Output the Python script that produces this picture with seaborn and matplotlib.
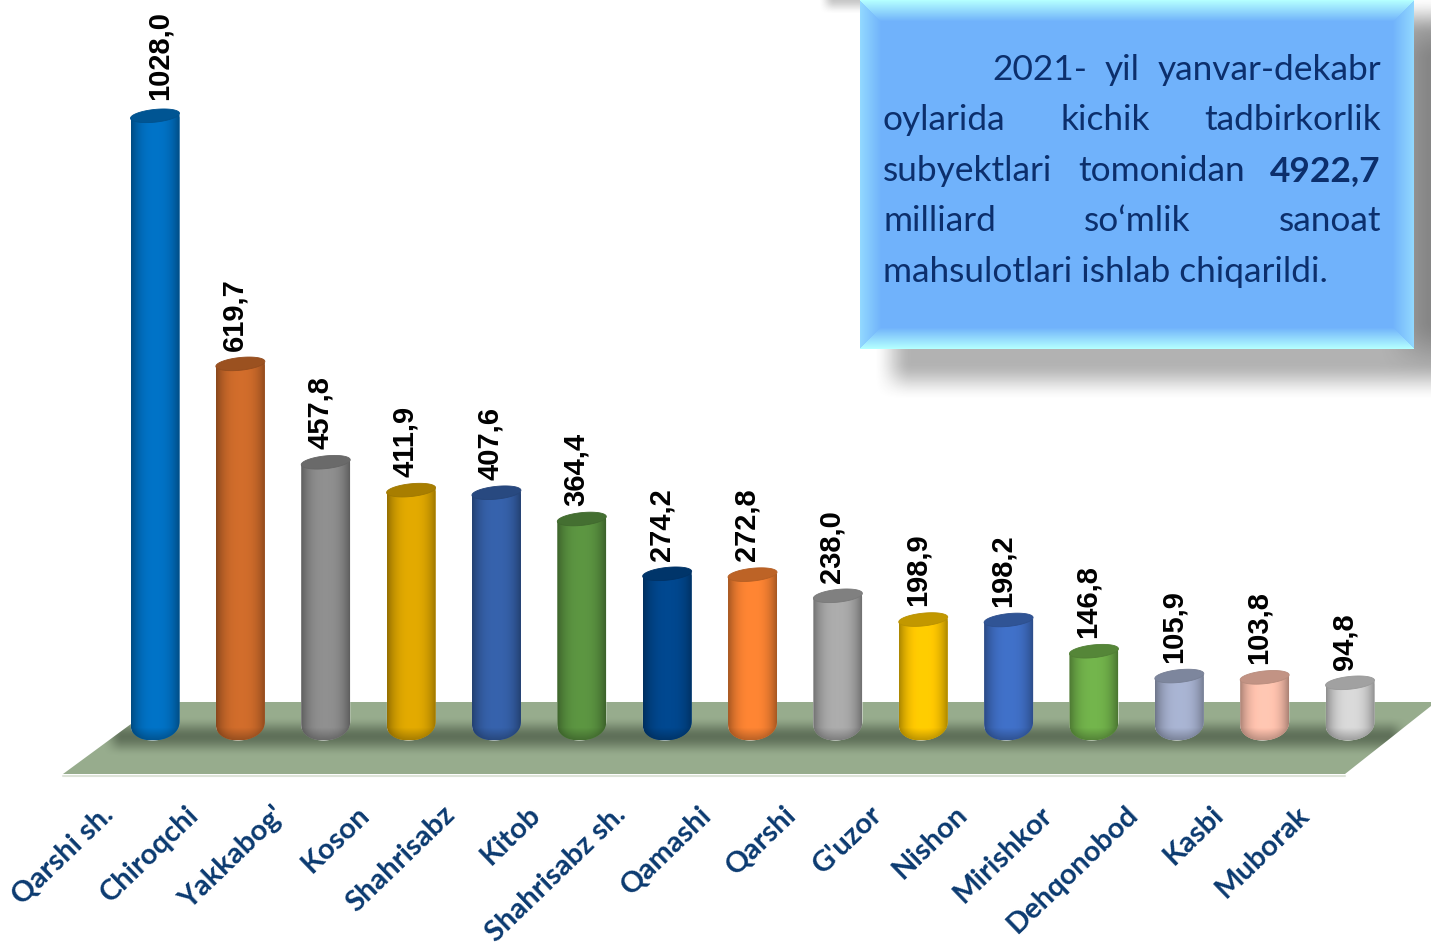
"""Kichik tadbirkorlik sanoat mahsulotlari: cylinder bars on a green floor."""

import matplotlib
matplotlib.use("Agg")
import matplotlib.pyplot as plt
from matplotlib.patches import Polygon
from matplotlib.path import Path
from matplotlib.transforms import ScaledTranslation
import matplotlib.colors as mcolors
import numpy as np
import pandas as pd
import seaborn as sns

# ─── Data ────────────────────────────────────────────────────────────────────

DISTRICTS = ["Qarshi sh.", "Chiroqchi", "Yakkabog'", "Koson", "Shahrisabz", "Kitob",
             "Shahrisabz sh.", "Qamashi", "Qarshi", "G'uzor", "Nishon", "Mirishkor",
             "Dehqonobod", "Kasbi", "Muborak"]
VALUES = [1028.0, 619.7, 457.8, 411.9, 407.6, 364.4, 274.2, 272.8,
          238.0, 198.9, 198.2, 146.8, 105.9, 103.8, 94.8]
BAR_COLORS = ["#0070C2", "#CC6A2A", "#8C8C8C", "#DDA600", "#3560A8", "#5A9240",
              "#00468C", "#F98232", "#A8A8A8", "#FFC800", "#3F6EC4", "#70B04A",
              "#A5B0CE", "#FFC2AE", "#D4D4D4"]
PANEL_LINES = [["2021-", "yil", "yanvar-dekabr"],
               ["oylarida", "kichik", "tadbirkorlik"],
               ["subyektlari", "tomonidan", "4922,7"],
               ["milliard", "so‘mlik", "sanoat"],
               ["mahsulotlari ishlab chiqarildi."]]
BOLD_WORDS = ["4922,7"]

# ─── Layout (pixels) ─────────────────────────────────────────────────────────

W, H = 1431, 947
PX_PER_UNIT = 0.6076
BASE_PX = 740.4
FLOOR_PX = 775
STEP_PX = 85.36
FIRST_PX = 155
TEXT_COLOR = "#0C2F6C"


def smooth(a):
    a = np.clip(a, 0, 1)
    return a * a * (3 - 2 * a)


def soft_box(xx, yy, x0, x1, y0, y1, blur):
    """Alpha of a box with blurred edges."""
    ax_ = smooth((xx - x0) / blur + 0.5) * smooth((x1 - xx) / blur + 0.5)
    ay_ = smooth((yy - y0) / blur + 0.5) * smooth((y1 - yy) / blur + 0.5)
    return ax_ * ay_


def draw_floor(pix):
    corners = [(161, 702), (1431, 702), (1431, 706), (1345, 774), (63, 774)]
    pix.plot([63, 1345], [775.5, 775.5], color="#DDE3D8", lw=1.5, zorder=1)
    floor = Polygon(corners, closed=True, fc="#97AC8D", ec="none", zorder=2)
    pix.add_patch(floor)
    # contact shadow under the bars
    yy, xx = np.mgrid[700:776, 60:1431]
    alpha = soft_box(xx, yy, 112, 1398, 726, 746, 20) * 0.62
    rgba = np.zeros(xx.shape + (4,))
    rgba[..., :3] = mcolors.to_rgb("#3E4C3A")
    rgba[..., 3] = alpha
    im = pix.imshow(rgba, extent=(60, 1431, 776, 700), aspect="auto", zorder=3)
    im.set_clip_path(floor)


def draw_panel(pix, fig):
    # drop shadow
    yy, xx = np.mgrid[0:420, 800:1431]
    alpha = soft_box(xx, yy, 892, 1520, 15, 381, 38) * 0.40
    alpha = np.maximum(alpha, soft_box(xx, yy, 826, 900, -20, 6, 16) * 0.3)
    alpha += soft_box(xx, yy, 1405, 1500, 30, 350, 60) * 0.24
    rgba = np.zeros(xx.shape + (4,))
    rgba[..., :3] = 0.25
    rgba[..., 3] = np.clip(alpha, 0, 1)
    pix.imshow(rgba, extent=(800, 1431, 420, 0), aspect="auto", zorder=4)

    # bevelled box
    x0, x1, y0, y1 = 860, 1414, 0, 349
    bevel = 21.0
    yy, xx = np.mgrid[y0:y1, x0:x1]
    d_top, d_bot = yy - y0, y1 - 1 - yy
    d_left, d_right = xx - x0, x1 - 1 - xx
    d_horiz = np.minimum(d_top, d_bot)
    d_vert = np.minimum(d_left, d_right)
    fill = np.array(mcolors.to_rgb("#70B2FB"))
    light_h = np.array(mcolors.to_rgb("#B4FFFF"))
    light_v = np.array(mcolors.to_rgb("#92D8FF"))
    t = np.clip(np.minimum(d_horiz, d_vert) / bevel, 0, 1)[..., None]
    use_h = (d_horiz <= d_vert)[..., None]
    edge = np.where(use_h, light_h, light_v)
    rgb = edge * (1 - t) + fill * t
    pix.imshow(rgb, extent=(x0, x1, y1, y0), aspect="auto", zorder=5)

    # justified text, word by word
    renderer = fig.canvas.get_renderer()
    left, right = 883, 1381
    baseline = 79.5
    for n, words in enumerate(PANEL_LINES):
        start = 992 if n == 0 else left
        texts = [pix.text(start, baseline + n * 50.6, w, fontsize=25.4, color=TEXT_COLOR,
                          family="Lato", va="baseline", ha="left", zorder=6,
                          fontweight="bold" if w in BOLD_WORDS else "normal")
                 for w in words]
        if len(words) > 1:
            widths = [t.get_window_extent(renderer).width for t in texts]
            gap = (right - start - sum(widths)) / (len(words) - 1)
            pos = start
            for t, wd in zip(texts, widths):
                t.set_x(pos)
                pos += wd + gap


def cylinder_outline(xc, half, h, ry, tilt):
    """Body outline in data units, rounded at the foot."""
    th = np.linspace(np.pi, 2 * np.pi, 50)
    cx, sy = np.cos(th), np.abs(np.sin(th)) ** 0.85
    foot_x = xc + half * cx
    foot_y = ry * (1 - sy) + tilt * cx * 0.6
    xs = np.concatenate([[xc - half], foot_x, [xc + half]])
    ys = np.concatenate([[h - tilt], foot_y, [h + tilt]])
    return np.column_stack([xs, ys])


def draw_cylinders(ax):
    ry_foot = 30.0       # data units, about 18 px
    ry_top = 10.5        # about 6.5 px
    tilt = 4.0           # rise towards the right, data units
    for container, color in zip(ax.containers, BAR_COLORS):
        patch = container.patches[0]
        x0, half = patch.get_x(), patch.get_width() / 2
        xc, h = x0 + half, patch.get_height()
        rgb = np.array(mcolors.to_rgb(color))

        outline = cylinder_outline(xc, half, h, ry_foot, tilt)
        path = Path(np.vstack([outline, outline[:1]]), closed=True)
        patch.set_clip_path(path, transform=ax.transData)

        # horizontal and foot shading
        nx, ny = 49, max(int(h * PX_PER_UNIT), 8)
        u = np.linspace(-1, 1, nx)
        across = 0.68 + 0.35 * (1 - np.abs(u) ** 2.6)
        v = np.linspace(0, h, ny)
        foot = 0.74 + 0.26 * np.clip(v / 20.0, 0, 1)
        shade = np.clip(np.outer(foot, across), 0, 1.05)
        img = np.clip(shade[..., None] * rgb, 0, 1)
        im = ax.imshow(img, extent=(x0, x0 + 2 * half, 0, h), origin="lower",
                       aspect="auto", zorder=3)
        im.set_clip_path(path, transform=ax.transData)

        # top cap
        th = np.linspace(0, 2 * np.pi, 80)
        cap = np.column_stack([xc + half * np.cos(th),
                               h + ry_top * np.sin(th) + tilt * np.cos(th)])
        ax.add_patch(Polygon(cap, closed=True, fc=rgb * 0.76, ec=rgb * 0.72,
                             lw=0.6, zorder=4))


def main():
    sns.set_theme(style="white")
    plt.rcParams["font.family"] = ["Liberation Sans", "DejaVu Sans"]

    fig = plt.figure(figsize=(W / 100, H / 100), dpi=100)
    fig.patch.set_facecolor("white")

    pix = fig.add_axes([0, 0, 1, 1], zorder=0)
    pix.axis("off")
    draw_floor(pix)
    draw_panel(pix, fig)
    pix.set_xlim(0, W)
    pix.set_ylim(H, 0)

    ax = fig.add_axes([0, (H - FLOOR_PX) / H, 1, FLOOR_PX / H], zorder=1)
    ax.patch.set_alpha(0)
    df = pd.DataFrame({"district": DISTRICTS, "value": VALUES})
    sns.barplot(data=df, x="district", y="value", hue="district", palette=BAR_COLORS,
                width=49 / STEP_PX, saturation=1, legend=False, dodge=False, ax=ax)

    draw_cylinders(ax)

    ax.set_xlim(-FIRST_PX / STEP_PX, (W - FIRST_PX) / STEP_PX)
    ax.set_ylim((BASE_PX - FLOOR_PX) / PX_PER_UNIT, BASE_PX / PX_PER_UNIT)
    ax.set_xlabel("")
    ax.set_ylabel("")
    ax.set_yticks([])
    sns.despine(ax=ax, left=True, bottom=True)

    # value labels
    for i, container in enumerate(ax.containers):
        text = "{:.1f}".format(VALUES[i]).replace(".", ",")
        for lab in ax.bar_label(container, labels=[text], rotation=90, fontsize=21,
                                fontweight="bold", color="black", padding=9.5):
            lab.xyann = (3.5 if i == 0 else -4.3, 11.5 if i == 0 else 9.5)
            lab.set_zorder(6)

    # slanted district labels
    ax.set_xticks(range(len(DISTRICTS)))
    ax.set_xticklabels(DISTRICTS, rotation=44, ha="right", va="top",
                       rotation_mode="anchor", fontsize=21, fontweight="bold",
                       color="#0B3A70", family="Lato")
    ax.tick_params(axis="x", length=0, pad=19)
    shift = ScaledTranslation(-39 / 72, 0, fig.dpi_scale_trans)
    for lab in ax.get_xticklabels():
        lab.set_transform(lab.get_transform() + shift)

    fig.savefig("out.png", dpi=100)
    plt.close(fig)


if __name__ == "__main__":
    main()
